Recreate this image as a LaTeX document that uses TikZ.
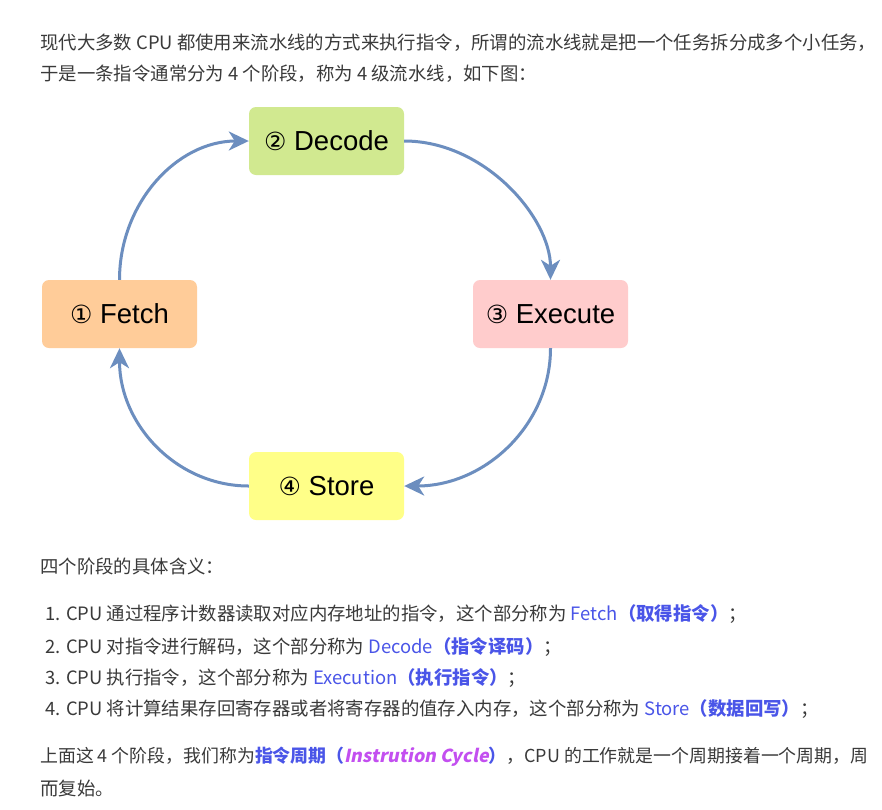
\documentclass[tikz,border=0pt]{standalone}
\usepackage{fontspec}
\setmainfont{Noto Sans CJK SC}
\newfontfamily\boxfont{Liberation Sans}
\newfontfamily\symfont{DejaVu Sans}
\newfontfamily\slantfont{Noto Sans CJK SC}[FakeSlant=0.2]
\usetikzlibrary{arrows.meta}
\definecolor{txt}{HTML}{3A3A3A}
\definecolor{hlblue}{HTML}{4A55E8}
\definecolor{hlpurple}{HTML}{C34FF0}
\definecolor{arrowc}{HTML}{6C8EBF}
\definecolor{decodec}{HTML}{D1E990}
\definecolor{fetchc}{HTML}{FFCC99}
\definecolor{execc}{HTML}{FFCCCC}
\definecolor{storec}{HTML}{FFFF88}
\begin{document}
\begin{tikzpicture}[x=1pt,y=-1pt,
  stage/.style={rounded corners=7pt, minimum width=155pt, minimum height=68pt,
    inner sep=0pt, font=\boxfont\fontsize{27.5}{32}\selectfont, text=black},
  flow/.style={draw=arrowc, line width=3pt,
    -{Stealth[length=20pt,width=19pt,inset=6pt]}},
  para/.style={anchor=west, inner sep=0pt, text=txt,
    font=\fontsize{18.4}{22}\selectfont}]
\useasboundingbox[fill=white] (0,0) rectangle (882,809);

% stage boxes
\node[stage, fill=decodec] (dec) at (326.5,141) {{\symfont\fontsize{25}{30}\selectfont ②} Decode};
\node[stage, fill=fetchc]  (fet) at (119.5,314) {{\symfont\fontsize{25}{30}\selectfont ①} Fetch};
\node[stage, fill=execc]   (exe) at (550.5,314) {{\symfont\fontsize{25}{30}\selectfont ③} Execute};
\node[stage, fill=storec]  (sto) at (326.5,486) {{\symfont\fontsize{25}{30}\selectfont ④} Store};

% connectors
\draw[flow] (fet.north) .. controls (119.5,203) and (177,141) .. (dec.west);
\draw[flow] (dec.east) .. controls (485,141) and (550.5,218) .. (exe.north);
\draw[flow] (exe.south) .. controls (550.5,425) and (485,486) .. (sto.east);
\draw[flow] (sto.west) .. controls (177,486) and (119.5,425) .. (fet.south);

% text
\node[para] (l1) at (40,43) {现代大多数 CPU 都使用来流水线的方式来执行指令，所谓的流水线就是把一个任务拆分成多个小任务，};
\node[para] (l2) at (40,74) {于是一条指令通常分为 4 个阶段，称为 4 级流水线，如下图：};
\node[para] (l3) at (40,566) {四个阶段的具体含义：};
\node[para] (i1) at (45,614) {1. CPU 通过程序计数器读取对应内存地址的指令，这个部分称为 {\color{hlblue}Fetch{\bfseries（取得指令）}}；};
\node[para] (i2) at (45,647) {2. CPU 对指令进行解码，这个部分称为 {\color{hlblue}Decode{\bfseries（指令译码）}}；};
\node[para] (i3) at (45,678) {3. CPU 执行指令，这个部分称为 {\color{hlblue}Execution{\bfseries（执行指令）}}；};
\node[para] (i4) at (45,709) {4. CPU 将计算结果存回寄存器或者将寄存器的值存入内存，这个部分称为 {\color{hlblue}Store{\bfseries（数据回写）}}；};
\node[para, font=\fontsize{17.9}{22}\selectfont] (l4) at (40,757) {上面这 4 个阶段，我们称为{\bfseries\color{hlblue}指令周期（}{\slantfont\bfseries\color{hlpurple}Instrution Cycle}{\bfseries\color{hlblue}）}，CPU 的工作就是一个周期接着一个周期，周};
\node[para] (l5) at (40,788) {而复始。};
\end{tikzpicture}
\end{document}
